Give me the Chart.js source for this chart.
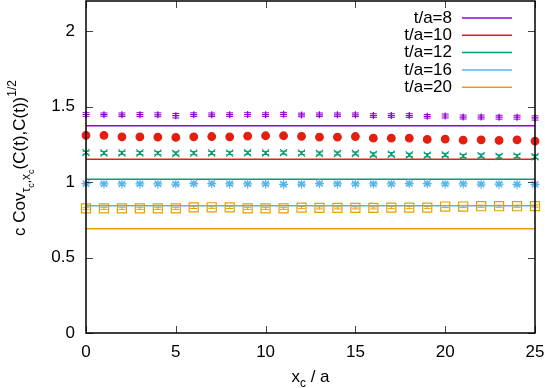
<!DOCTYPE html>
<html>
<head>
<meta charset="utf-8">
<script src="https://cdn.jsdelivr.net/npm/chart.js@4/dist/chart.umd.min.js"></script>
<style>
  html, body { margin: 0; padding: 0; background: #fff; }
  #wrap { width: 545px; height: 388px; }
</style>
</head>
<body>
<div id="wrap"><canvas id="covChart" width="545" height="388"></canvas></div>
<script>
// x positions (x_c / a)
const xValues = [0,1,2,3,4,5,6,7,8,9,10,11,12,13,14,15,16,17,18,19,20,21,22,23,24,25];
const xTicks = [0, 5, 10, 15, 20, 25];
const yTicks = [0, 0.5, 1, 1.5, 2];

const seriesLabels = ['t/a=8', 't/a=10', 't/a=12', 't/a=16', 't/a=20'];
const seriesColors = ['#9400d3', '#e51e10', '#009e73', '#56b4e9', '#e69f00'];

// horizontal reference lines
const fitValues = [1.374, 1.152, 1.018, 0.843, 0.690];

// measured points per t/a
const t8Pts  = [1.448,1.447,1.446,1.447,1.446,1.440,1.447,1.446,1.447,1.448,1.447,1.449,1.445,1.446,1.446,1.446,1.441,1.441,1.441,1.436,1.438,1.431,1.431,1.430,1.430,1.425];
const t10Pts = [1.310,1.310,1.300,1.300,1.298,1.296,1.300,1.302,1.300,1.305,1.307,1.307,1.303,1.298,1.298,1.302,1.291,1.291,1.291,1.283,1.285,1.278,1.280,1.276,1.280,1.272];
const t12Pts = [1.195,1.193,1.193,1.193,1.192,1.190,1.192,1.193,1.192,1.194,1.193,1.195,1.192,1.190,1.190,1.190,1.183,1.185,1.180,1.178,1.180,1.172,1.175,1.170,1.172,1.168];
const t16Pts = [0.990,0.988,0.988,0.988,0.988,0.987,0.990,0.990,0.988,0.988,0.988,0.985,0.987,0.990,0.988,0.988,0.988,0.988,0.990,0.990,0.988,0.988,0.986,0.986,0.985,0.985];
const t20Pts = [0.826,0.826,0.826,0.826,0.826,0.826,0.832,0.833,0.832,0.826,0.826,0.826,0.831,0.829,0.829,0.829,0.829,0.831,0.831,0.831,0.838,0.838,0.840,0.840,0.840,0.841];

const t8Err  = [0.012,0.011,0.012,0.013,0.013,0.015,0.012,0.012,0.012,0.012,0.012,0.013,0.012,0.012,0.012,0.012,0.012,0.012,0.012,0.012,0.013,0.013,0.013,0.013,0.013,0.014];
const t10Err = [0.008,0.008,0.008,0.008,0.008,0.008,0.008,0.008,0.008,0.008,0.008,0.008,0.008,0.008,0.008,0.008,0.008,0.008,0.008,0.008,0.008,0.008,0.008,0.008,0.008,0.008];
const t12Err = [0.010,0.010,0.010,0.010,0.010,0.010,0.010,0.010,0.010,0.010,0.010,0.010,0.010,0.010,0.010,0.010,0.011,0.011,0.011,0.011,0.011,0.011,0.011,0.011,0.011,0.011];
const t16Err = [0.010,0.010,0.010,0.010,0.010,0.010,0.010,0.010,0.010,0.010,0.010,0.010,0.010,0.010,0.010,0.010,0.010,0.010,0.010,0.010,0.010,0.010,0.010,0.010,0.010,0.010];
const t20Err = [0.007,0.007,0.007,0.007,0.007,0.007,0.007,0.007,0.007,0.007,0.007,0.007,0.007,0.007,0.007,0.007,0.007,0.007,0.007,0.007,0.007,0.007,0.007,0.007,0.007,0.007];

const allPts = [t8Pts, t10Pts, t12Pts, t16Pts, t20Pts];
const allErr = [t8Err, t10Err, t12Err, t16Err, t20Err];
const pointStyles = ['cross', 'circle', 'crossRot', 'star', 'rect'];
const pointSizes = [3.5, 3.8, 5, 4.5, 6.4];

const FONT = '"Liberation Sans", Arial, sans-serif';

const datasets = [];
seriesLabels.forEach((lab, i) => {
  datasets.push({
    type: 'line',
    label: lab,
    data: [{ x: xValues[0], y: fitValues[i] }, { x: xValues[xValues.length - 1], y: fitValues[i] }],
    borderColor: seriesColors[i],
    borderWidth: 1.5,
    pointRadius: 0,
    fill: false,
    order: 2
  });
});
seriesLabels.forEach((lab, i) => {
  datasets.push({
    type: 'scatter',
    label: lab + ' pts',
    data: xValues.map((x, j) => ({ x: x, y: allPts[i][j] })),
    errors: allErr[i],
    pointStyle: pointStyles[i],
    pointRadius: pointSizes[i],
    pointBorderWidth: 1.2,
    borderColor: seriesColors[i],
    backgroundColor: i === 1 ? seriesColors[i] : 'rgba(0,0,0,0)',
    clip: false,
    order: 1
  });
});

// error bars, frame, inward ticks, legend and axis titles
const gnuplotLook = {
  id: 'gnuplotLook',
  beforeDatasetsDraw(chart) {
    const ctx = chart.ctx, xs = chart.scales.x, ys = chart.scales.y;
    ctx.save();
    chart.data.datasets.forEach(ds => {
      if (!ds.errors) return;
      ctx.strokeStyle = ds.borderColor;
      ctx.lineWidth = 1;
      ds.data.forEach((p, j) => {
        const px = xs.getPixelForValue(p.x);
        const y1 = ys.getPixelForValue(p.y - ds.errors[j]);
        const y2 = ys.getPixelForValue(p.y + ds.errors[j]);
        ctx.beginPath();
        ctx.moveTo(px, y1); ctx.lineTo(px, y2);
        ctx.moveTo(px - 3.5, y1); ctx.lineTo(px + 3.5, y1);
        ctx.moveTo(px - 3.5, y2); ctx.lineTo(px + 3.5, y2);
        ctx.stroke();
      });
    });
    ctx.restore();
  },
  afterDraw(chart) {
    const ctx = chart.ctx, a = chart.chartArea;
    const xs = chart.scales.x, ys = chart.scales.y;
    ctx.save();
    // ticks pointing inward on all sides
    ctx.strokeStyle = '#444';
    ctx.lineWidth = 1;
    ctx.beginPath();
    yTicks.forEach(v => {
      const py = Math.round(ys.getPixelForValue(v)) + 0.5;
      ctx.moveTo(a.left, py); ctx.lineTo(a.left + 7, py);
      ctx.moveTo(a.right, py); ctx.lineTo(a.right - 7, py);
    });
    xTicks.forEach(v => {
      const px = Math.round(xs.getPixelForValue(v)) + 0.5;
      ctx.moveTo(px, a.bottom); ctx.lineTo(px, a.bottom - 7);
      ctx.moveTo(px, a.top); ctx.lineTo(px, a.top + 7);
    });
    ctx.stroke();
    // frame
    ctx.strokeStyle = '#000';
    ctx.lineWidth = 1.5;
    ctx.strokeRect(a.left, a.top, a.right - a.left, a.bottom - a.top);

    // legend
    ctx.font = '17px ' + FONT;
    ctx.textAlign = 'right';
    ctx.textBaseline = 'middle';
    seriesLabels.forEach((lab, i) => {
      const ly = 18 + i * 17.3;
      ctx.fillStyle = '#000';
      ctx.fillText(lab, 452, ly);
      ctx.strokeStyle = seriesColors[i];
      ctx.lineWidth = 1.5;
      ctx.beginPath();
      ctx.moveTo(462, ly); ctx.lineTo(512, ly);
      ctx.stroke();
    });

    // x title: x_c / a
    ctx.fillStyle = '#000';
    ctx.textAlign = 'left';
    ctx.textBaseline = 'alphabetic';
    const xParts = [['x', 17, 0], ['c', 12, 5], [' / a', 17, 0]];
    drawParts(ctx, xParts, (a.left + a.right) / 2, 382);

    // y title, rotated
    ctx.translate(25, 158);
    ctx.rotate(-Math.PI / 2);
    const yParts = [['c Cov', 17, 0], ['\u03c4', 12, 5], ['c', 9, 9], [',x', 12, 5], ['c', 9, 9], ['(C(t),C(t))', 17, 0], ['1/2', 12, -9]];
    drawParts(ctx, yParts, 0, 0);
    ctx.restore();
  }
};

function drawParts(ctx, parts, cx, baseY) {
  let total = 0;
  parts.forEach(p => { ctx.font = p[1] + 'px ' + FONT; total += ctx.measureText(p[0]).width; });
  let x = cx - total / 2;
  parts.forEach(p => {
    ctx.font = p[1] + 'px ' + FONT;
    ctx.fillText(p[0], x, baseY + p[2]);
    x += ctx.measureText(p[0]).width;
  });
}

const ctx = document.getElementById('covChart').getContext('2d');
const covChart = new Chart(ctx, {
  data: { datasets: datasets },
  options: {
    responsive: false,
    animation: false,
    layout: { autoPadding: false, padding: { top: 1, right: 10, left: 0, bottom: 0 } },
    plugins: {
      legend: { display: false },
      tooltip: { enabled: false }
    },
    scales: {
      x: {
        type: 'linear',
        min: 0, max: 25,
        grid: { display: false, drawTicks: false },
        border: { display: false },
        afterBuildTicks: s => { s.ticks = xTicks.map(v => ({ value: v })); },
        afterFit: s => { s.height = 55; s.paddingLeft = 0; s.paddingRight = 0; },
        ticks: { color: '#000', padding: 9, maxRotation: 0, font: { family: FONT, size: 17 } }
      },
      y: {
        type: 'linear',
        min: 0, max: 2.2,
        grid: { display: false, drawTicks: false },
        border: { display: false },
        afterBuildTicks: s => { s.ticks = yTicks.map(v => ({ value: v })); },
        afterFit: s => { s.width = 86; s.paddingTop = 0; s.paddingBottom = 0; },
        ticks: { color: '#000', padding: 11, font: { family: FONT, size: 17 }, callback: v => String(v) }
      }
    }
  },
  plugins: [gnuplotLook]
});
</script>
</body>
</html>
